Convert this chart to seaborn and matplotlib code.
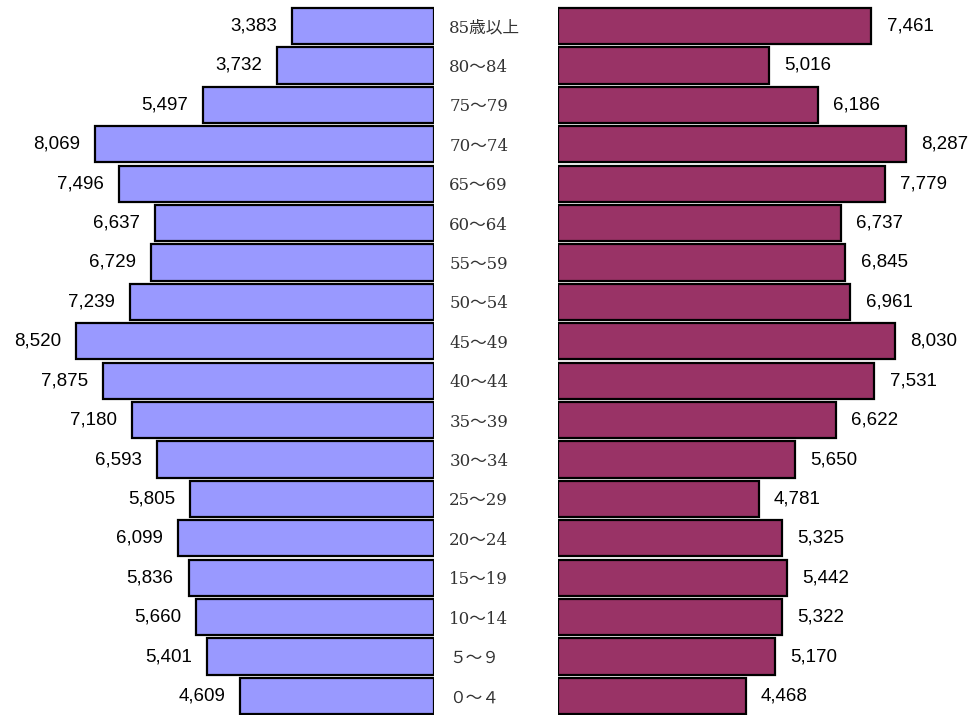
import matplotlib
matplotlib.use('Agg')
import matplotlib.pyplot as plt
import seaborn as sns

# 年齢階級（上から順）
ages = ['85歳以上', '80～84', '75～79', '70～74', '65～69', '60～64', '55～59',
        '50～54', '45～49', '40～44', '35～39', '30～34', '25～29', '20～24',
        '15～19', '10～14', '５～９', '０～４']
# 男性（左）
male = [3383, 3732, 5497, 8069, 7496, 6637, 6729, 7239, 8520, 7875, 7180,
        6593, 5805, 6099, 5836, 5660, 5401, 4609]
# 女性（右）
female = [7461, 5016, 6186, 8287, 7779, 6737, 6845, 6961, 8030, 7531, 6622,
          5650, 4781, 5325, 5442, 5322, 5170, 4468]

sns.set_style('white')
plt.rcParams['font.family'] = ['Liberation Sans', 'Noto Sans CJK JP']

W, H = 973, 715
fig = plt.figure(figsize=(W / 100, H / 100), dpi=100)

scale = 0.042  # px per person
top_px, bot_px = 6.3, 715.7

def frac(x0, x1):
    return [x0 / W, (H - bot_px) / H, (x1 - x0) / W, (bot_px - top_px) / H]

ax_l = fig.add_axes(frac(0, 434))
ax_r = fig.add_axes(frac(558, W))

bar_kw = dict(orient='h', width=0.92, edgecolor='black', linewidth=1.6,
              saturation=1)
sns.barplot(x=male, y=ages, color='#9999FF', ax=ax_l, **bar_kw)
sns.barplot(x=female, y=ages, color='#993366', ax=ax_r, **bar_kw)

ax_l.set_xlim(434 / scale, 0)
ax_r.set_xlim(0, (W - 558) / scale)

for ax in (ax_l, ax_r):
    ax.set_ylim(17.5, -0.5)
    ax.set_xlabel('')
    ax.set_ylabel('')
    ax.set_xticks([])
    for s in ax.spines.values():
        s.set_visible(False)

ax_l.bar_label(ax_l.containers[0], labels=[f'{v:,}' for v in male],
               padding=11, fontsize=13.5, color='black')
ax_r.bar_label(ax_r.containers[0], labels=[f'{v:,}' for v in female],
               padding=11, fontsize=13.5, color='black')

# 中央の年齢ラベル
ax_l.yaxis.tick_right()
ax_l.tick_params(axis='y', length=0, pad=11)
for t in ax_l.get_yticklabels():
    t.set_family(['DejaVu Serif', 'Noto Sans CJK JP'])
    t.set_fontsize(12)
    t.set_color('#333333')
ax_r.set_yticks([])

fig.savefig('out.png', dpi=100)
